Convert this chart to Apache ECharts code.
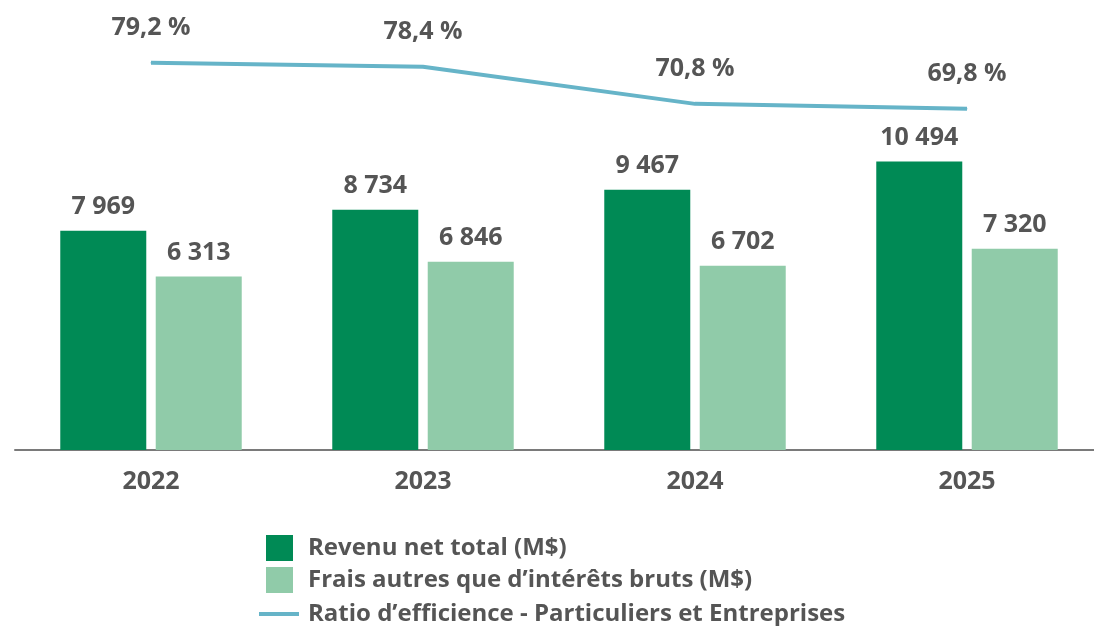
<!DOCTYPE html>
<html>
<head>
<meta charset="utf-8">
<script src="https://cdn.jsdelivr.net/npm/echarts@6/dist/echarts.min.js"></script>
<style>
  html, body { margin: 0; padding: 0; background: #fff; }
  #chart { width: 1094px; height: 626px; }
</style>
</head>
<body>
<div id="chart"></div>
<script>
const years = ['2022', '2023', '2024', '2025']
const revenu = [7969, 8734, 9467, 10494]
const frais = [6313, 6846, 6702, 7320]
const ratio = [79.2, 78.4, 70.8, 69.8]

const names = [
  'Revenu net total (M$)',
  'Frais autres que d\u2019intérêts bruts (M$)',
  'Ratio d\u2019efficience - Particuliers et Entreprises'
]

const textColor = '#555555'
const lineColor = '#66b4c8'
const font = '"Open Sans", sans-serif'

const fmtNum = (v) => String(v).replace(/\B(?=(\d{3})+(?!\d))/g, ' ')
const fmtPct = (v) => v.toFixed(1).replace('.', ',') + ' %'

const labelStyle = {
  show: true,
  position: 'top',
  distance: 11,
  color: textColor,
  fontFamily: font,
  fontWeight: 'bold',
  fontSize: 25
}

const legendText = (pad) => ({
  color: textColor,
  fontFamily: font,
  fontWeight: 'bold',
  fontSize: 24,
  padding: [0, 0, 0, pad]
})

const chart = echarts.init(document.getElementById('chart'))

chart.setOption({
  animation: false,
  grid: { left: 15, width: 1088, top: 10, bottom: 176, outerBoundsMode: 'none' },
  legend: [
    {
      data: [{ name: names[0], icon: 'rect' }],
      left: 261, top: 530,
      itemWidth: 27, itemHeight: 26,
      textStyle: legendText(10)
    },
    {
      data: [{ name: names[1], icon: 'rect' }],
      left: 261, top: 562,
      itemWidth: 27, itemHeight: 26,
      textStyle: legendText(10)
    },
    {
      data: [{ name: names[2], icon: 'rect' }],
      left: 254, top: 597,
      itemWidth: 40, itemHeight: 4,
      textStyle: legendText(4)
    }
  ],
  xAxis: {
    type: 'category',
    data: years,
    axisLine: { lineStyle: { color: '#7a7a7a', width: 2 } },
    axisTick: { show: false },
    axisLabel: {
      margin: 19,
      color: textColor,
      fontFamily: font,
      fontWeight: 'bold',
      fontSize: 25
    }
  },
  yAxis: [
    { type: 'value', min: 0, max: 16000, show: false, splitLine: { show: false } },
    { type: 'value', min: 0, max: 90, show: false, splitLine: { show: false } }
  ],
  series: [
    {
      name: names[0],
      type: 'bar',
      data: revenu,
      barWidth: 86,
      barGap: '11%',
      itemStyle: { color: '#008a55' },
      label: { ...labelStyle, formatter: (p) => fmtNum(p.value) }
    },
    {
      name: names[1],
      type: 'bar',
      data: frais,
      barWidth: 86,
      barGap: '11%',
      itemStyle: { color: '#90cba9' },
      label: { ...labelStyle, formatter: (p) => fmtNum(p.value) }
    },
    {
      name: names[2],
      type: 'line',
      yAxisIndex: 1,
      data: ratio,
      symbol: 'circle',
      symbolSize: 1,
      showSymbol: true,
      lineStyle: { color: lineColor, width: 4 },
      itemStyle: { color: lineColor },
      label: { ...labelStyle, distance: 22, formatter: (p) => fmtPct(p.value) }
    }
  ]
})
</script>
</body>
</html>
